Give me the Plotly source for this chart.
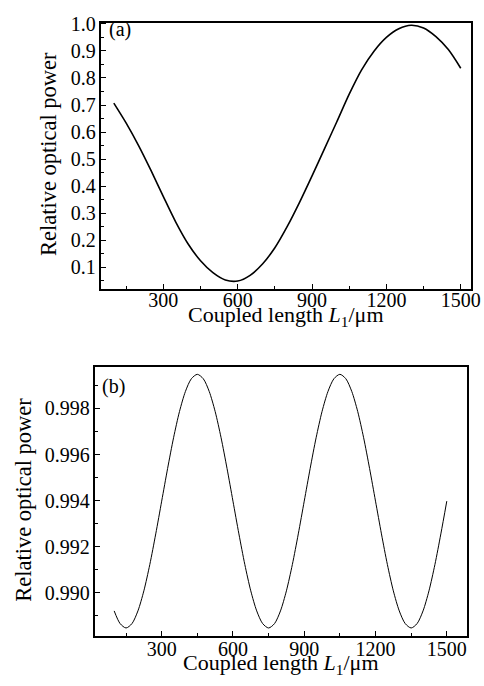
import plotly.graph_objects as go

# Panel (a)
length_a = [100, 150, 200, 250, 300, 350, 400, 450, 500, 550, 600, 650, 700, 750, 800,
            850, 900, 950, 1000, 1050, 1100, 1150, 1200, 1250, 1300, 1350, 1400, 1450, 1500]
power_a = [0.707, 0.633, 0.550, 0.458, 0.361, 0.267, 0.186, 0.124, 0.080, 0.053, 0.049,
           0.070, 0.112, 0.172, 0.251, 0.341, 0.438, 0.538, 0.638, 0.740, 0.830, 0.899,
           0.950, 0.982, 0.995, 0.985, 0.953, 0.905, 0.836]

# Panel (b)
length_b = [100, 125, 150, 175, 200, 225, 250, 275, 300, 325, 350, 375, 400, 425, 450, 475,
            500, 525, 550, 575, 600, 625, 650, 675, 700, 725, 750, 775, 800, 825, 850, 875,
            900, 925, 950, 975, 1000, 1025, 1050, 1075, 1100, 1125, 1150, 1175, 1200, 1225,
            1250, 1275, 1300, 1325, 1350, 1375, 1400, 1425, 1450, 1475, 1500]
power_b = [0.98922, 0.98867,
           0.98848, 0.98867, 0.98922, 0.99009, 0.99123, 0.99256, 0.99398, 0.99540, 0.99673,
           0.99787, 0.99874, 0.99929, 0.99948, 0.99929, 0.99874, 0.99787, 0.99673, 0.99540,
           0.99398, 0.99256, 0.99123, 0.99009, 0.98922, 0.98867,
           0.98848, 0.98867, 0.98922, 0.99009, 0.99123, 0.99256, 0.99398, 0.99540, 0.99673,
           0.99787, 0.99874, 0.99929, 0.99948, 0.99929, 0.99874, 0.99787, 0.99673, 0.99540,
           0.99398, 0.99256, 0.99123, 0.99009, 0.98922, 0.98867,
           0.98848, 0.98867, 0.98922, 0.99009, 0.99123, 0.99256, 0.99398]

x_ticks = [300, 600, 900, 1200, 1500]
y_ticks_a = [0.1, 0.2, 0.3, 0.4, 0.5, 0.6, 0.7, 0.8, 0.9, 1.0]
y_ticks_b = [0.990, 0.992, 0.994, 0.996, 0.998]

FONT = "Liberation Serif"
REF_W, H = 484, 686
W = 496  # layout width (page appears squeezed horizontally to 484 px)

fig = go.Figure()
fig.add_trace(go.Scatter(x=length_a, y=power_a, mode="lines",
                         line=dict(color="black", width=1.6, shape="spline", smoothing=0.8),
                         xaxis="x", yaxis="y", showlegend=False))
fig.add_trace(go.Scatter(x=length_b, y=power_b, mode="lines",
                         line=dict(color="black", width=1.0, shape="spline", smoothing=0.8),
                         xaxis="x2", yaxis="y2", showlegend=False))

common = dict(showline=True, linecolor="black", linewidth=1.5, mirror=True, ticks="inside",
              ticklen=5, tickwidth=1.2, tickcolor="black", showgrid=False, zeroline=False,
              tickfont=dict(family=FONT, size=20, color="black"))

# pixel geometry (reference pixels)
ax_a = dict(l=101, r=468.7, t=13, b=283)
ax_b = dict(l=95, r=465.3, t=362.7, b=635.3)

fig.update_layout(
    width=W, height=H, margin=dict(l=0, r=0, t=0, b=0),
    paper_bgcolor="white", plot_bgcolor="white",
    xaxis=dict(domain=[ax_a["l"] / REF_W, ax_a["r"] / REF_W], range=[50, 1540], tickvals=x_ticks,
               anchor="y", ticklabelstandoff=-8,
               minor=dict(ticks="inside", dtick=150, tick0=0, ticklen=3, tickcolor="black"), **common),
    yaxis=dict(domain=[1 - ax_a["b"] / H, 1 - ax_a["t"] / H], range=[0.02, 1.004], tickvals=y_ticks_a,
               tickformat=".1f", anchor="x",
               minor=dict(ticks="inside", dtick=0.05, tick0=0, ticklen=3, tickcolor="black"), **common),
    xaxis2=dict(domain=[ax_b["l"] / REF_W, ax_b["r"] / REF_W], range=[21, 1586], tickvals=x_ticks,
                anchor="y2", ticklabelstandoff=-6,
                minor=dict(ticks="inside", dtick=150, tick0=0, ticklen=3, tickcolor="black"), **common),
    yaxis2=dict(domain=[1 - ax_b["b"] / H, 1 - ax_b["t"] / H], range=[0.98813, 0.99978], tickvals=y_ticks_b,
                tickformat=".3f", anchor="x2",
                minor=dict(ticks="inside", dtick=0.001, tick0=0.988, ticklen=3, tickcolor="black"), **common),
)

title_font = dict(family=FONT, size=22, color="black")
ytitle_font = dict(family=FONT, size=22.5, color="black")
xt = "Coupled length <i>L</i><sub>1</sub>/\u03bcm"
yt = "Relative optical power"
annos = [
    dict(text=xt, x=(ax_a["l"] + ax_a["r"]) / 2 / REF_W, y=1 - 311 / H, xref="paper", yref="paper",
         showarrow=False, font=title_font, xanchor="center", yanchor="middle"),
    dict(text=yt, x=49 / REF_W, y=1 - 146 / H, xref="paper", yref="paper", textangle=-90,
         showarrow=False, font=ytitle_font, xanchor="center", yanchor="middle"),
    dict(text=xt, x=(ax_b["l"] + ax_b["r"]) / 2 / REF_W, y=1 - 664 / H, xref="paper", yref="paper",
         showarrow=False, font=title_font, xanchor="center", yanchor="middle"),
    dict(text=yt, x=24 / REF_W, y=1 - 497 / H, xref="paper", yref="paper", textangle=-90,
         showarrow=False, font=ytitle_font, xanchor="center", yanchor="middle"),
    dict(text="(a)", x=107 / REF_W, y=1 - 20 / H, xref="paper", yref="paper", showarrow=False,
         font=dict(family=FONT, size=20, color="black"), xanchor="left", yanchor="middle"),
    dict(text="(b)", x=100 / REF_W, y=1 - 382 / H, xref="paper", yref="paper", showarrow=False,
         font=dict(family=FONT, size=20, color="black"), xanchor="left", yanchor="middle"),
]
fig.update_layout(annotations=annos)

# reset the default 8px page margin synchronously (before the page is measured)
reset_margin = "}); document.body.style.margin='0'; Promise.resolve().then(function(){"
fig.write_html("out.html", config={"displayModeBar": False}, post_script=reset_margin)
